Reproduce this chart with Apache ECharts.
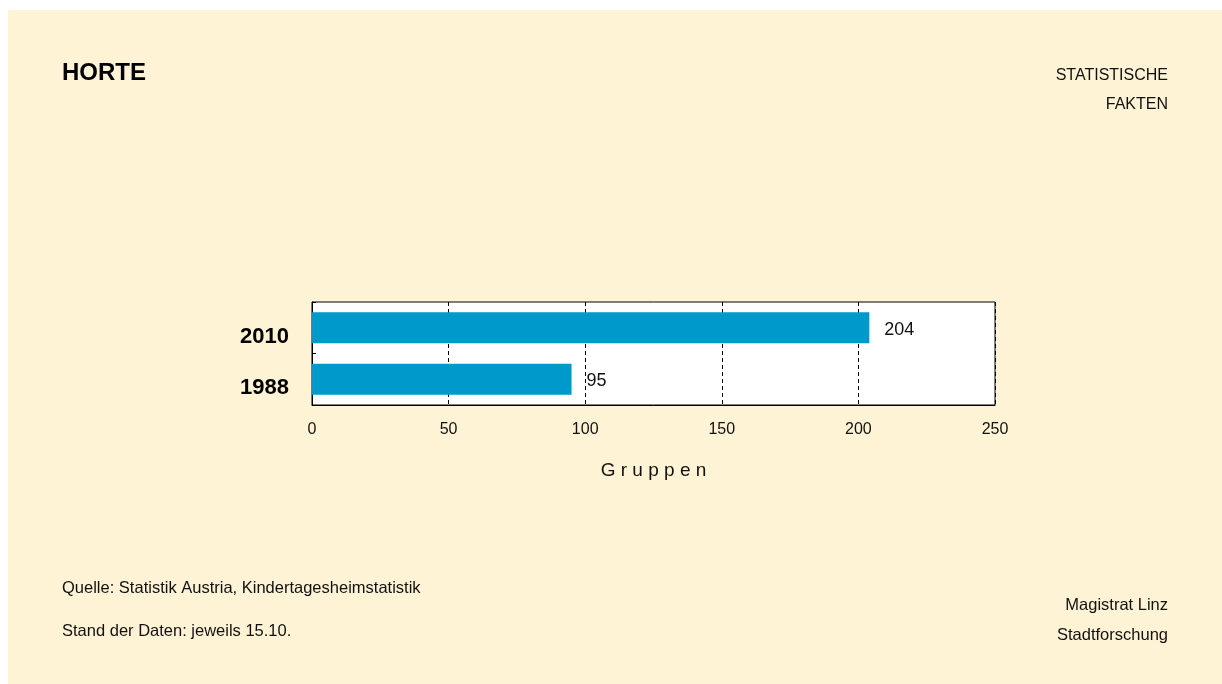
<!DOCTYPE html>
<html lang="de">
<head>
<meta charset="UTF-8">
<title>Horte</title>
<style>
    html, body { margin: 0; padding: 0; background: #ffffff; }
    #main { width: 1222px; height: 684px; }
</style>
</head>
<body>
<div id="main"></div>
<script src="https://cdn.jsdelivr.net/npm/echarts@6/dist/echarts.min.js"></script>
<script>
// Daten
var years = ['2010', '1988'];
var gruppen = [204, 95];
var xTicks = [0, 50, 100, 150, 200, 250];

var chart = echarts.init(document.getElementById('main'));
var font = 'Liberation Sans, Arial, sans-serif';

var option = {
    backgroundColor: '#ffffff',
    textStyle: { fontFamily: font },
    graphic: [
        { type: 'rect', left: 8, top: 10, shape: { width: 1214, height: 674 }, style: { fill: '#fff3d6' }, z: -10 },
        { type: 'text', left: 62, top: 61, style: { text: 'HORTE', font: 'bold 24px ' + font, fill: '#000' } },
        { type: 'text', right: 54, top: 68, style: { text: 'STATISTISCHE', font: '16px ' + font, fill: '#111', textAlign: 'right' } },
        { type: 'text', right: 54, top: 97, style: { text: 'FAKTEN', font: '16px ' + font, fill: '#111', textAlign: 'right' } },
        { type: 'text', left: 62, top: 580, style: { text: 'Quelle: Statistik Austria, Kindertagesheimstatistik', font: '16.5px ' + font, fill: '#111' } },
        { type: 'text', left: 62, top: 623, style: { text: 'Stand der Daten: jeweils 15.10.', font: '16.5px ' + font, fill: '#111' } },
        { type: 'text', right: 54, top: 597, style: { text: 'Magistrat Linz', font: '16.5px ' + font, fill: '#111', textAlign: 'right' } },
        { type: 'text', right: 54, top: 627, style: { text: 'Stadtforschung', font: '16.5px ' + font, fill: '#111', textAlign: 'right' } }
    ],
    grid: {
        left: 312, right: 227, top: 302, height: 103,
        show: true, backgroundColor: '#ffffff', borderColor: '#000', borderWidth: 1
    },
    xAxis: {
        type: 'value',
        min: xTicks[0], max: xTicks[xTicks.length - 1], interval: 50,
        name: 'G r u p p e n',
        nameLocation: 'middle', nameGap: 56,
        nameTextStyle: { fontSize: 19, color: '#111', fontFamily: font },
        axisLine: { show: true, lineStyle: { color: '#000' } },
        axisTick: { show: false },
        axisLabel: { fontSize: 16, color: '#111', margin: 17, fontFamily: font },
        splitLine: { show: true, lineStyle: { color: '#000', type: [4, 3], width: 1 } }
    },
    yAxis: {
        type: 'category',
        inverse: true,
        data: years,
        axisLine: { show: true, lineStyle: { color: '#000' } },
        axisTick: { show: true, inside: true, length: 4, lineStyle: { color: '#000' } },
        axisLabel: {
            fontSize: 22, fontWeight: 'bold', color: '#000', margin: 23, fontFamily: font,
            verticalAlign: 'top', lineHeight: 18
        },
        splitLine: { show: false }
    },
    series: [{
        type: 'bar',
        data: gruppen,
        barCategoryGap: '40%',
        itemStyle: { color: '#0099cc' },
        label: {
            show: true, position: 'right', distance: 15, offset: [0, 2],
            fontSize: 18, color: '#111', fontFamily: font
        }
    }]
};

chart.setOption(option);
</script>
</body>
</html>
